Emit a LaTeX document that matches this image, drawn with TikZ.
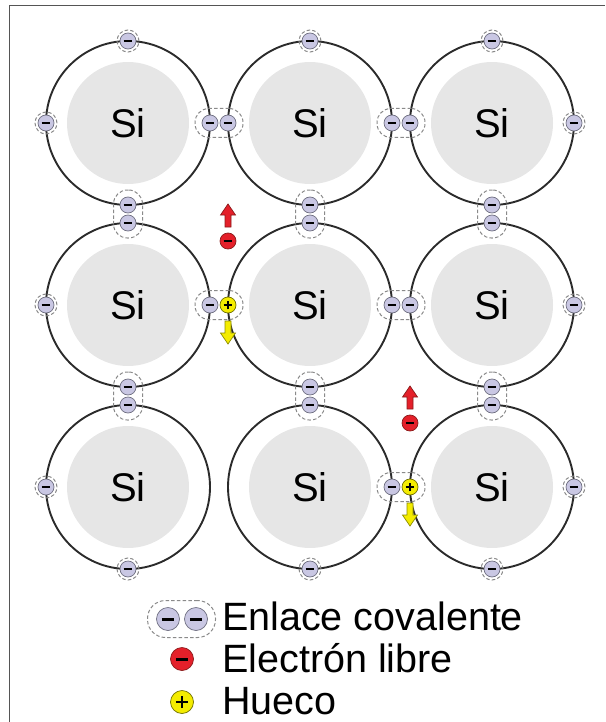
\documentclass[tikz,border=0pt]{standalone}
\usepackage{fontspec}
\setmainfont{Liberation Sans}
\begin{document}
\definecolor{ringcol}{HTML}{2B2B2B}
\definecolor{corefill}{HTML}{E6E6E6}
\definecolor{elecfill}{HTML}{C9C7E3}
\definecolor{elecedge}{HTML}{6E6E80}
\definecolor{freered}{HTML}{E4202A}
\definecolor{freeedge}{HTML}{8A1A1A}
\definecolor{holefill}{HTML}{F4EC00}
\definecolor{holeedge}{HTML}{707000}
\definecolor{dashcol}{HTML}{8A8A8A}
\definecolor{framecol}{HTML}{555555}
\begin{tikzpicture}[x=1pt,y=-1pt,
  frameline/.style={draw=framecol, line width=1.4pt},
  ring/.style={draw=ringcol, line width=1.9pt},
  core/.style={circle, fill=corefill, minimum size=122pt, inner sep=0pt,
    font=\fontsize{40}{40}\selectfont},
  minusmark/.style={path picture={\draw[line width=#1, black]
      ([xshift=-0.27*\pgfkeysvalueof{/pgf/minimum width}]path picture bounding box.center) --
      ([xshift=0.27*\pgfkeysvalueof{/pgf/minimum width}]path picture bounding box.center);}},
  plusmark/.style={path picture={\draw[line width=#1, black]
      ([xshift=-0.27*\pgfkeysvalueof{/pgf/minimum width}]path picture bounding box.center) --
      ([xshift=0.27*\pgfkeysvalueof{/pgf/minimum width}]path picture bounding box.center)
      ([yshift=-0.27*\pgfkeysvalueof{/pgf/minimum width}]path picture bounding box.center) --
      ([yshift=0.27*\pgfkeysvalueof{/pgf/minimum width}]path picture bounding box.center);}},
  particle/.style={circle, inner sep=0pt, line width=0.7pt, minimum size=16pt},
  elec/.style={particle, draw=elecedge, fill=elecfill, minusmark=2.4pt},
  freeel/.style={particle, draw=freeedge, fill=freered, minusmark=2.4pt},
  holeel/.style={particle, draw=holeedge, fill=holefill, plusmark=2.2pt},
  bigelec/.style={elec, minimum size=23pt, minusmark=3pt},
  bigfree/.style={freeel, minimum size=23pt, minusmark=3pt},
  bighole/.style={holeel, minimum size=23pt, plusmark=2.8pt},
  dashline/.style={draw=dashcol, line width=1pt, dash pattern=on 3.5pt off 2.2pt},
  hbond/.style={dashline, rounded corners=14pt, minimum width=48pt, minimum height=29pt, inner sep=0pt},
  vbond/.style={dashline, rounded corners=14pt, minimum width=29pt, minimum height=48pt, inner sep=0pt},
  lonebond/.style={dashline, circle, minimum size=22pt, inner sep=0pt},
  legendbond/.style={dashline, rounded corners=18pt, minimum width=68pt, minimum height=37pt, inner sep=0pt},
  legendtext/.style={anchor=base west, inner sep=0pt, font=\fontsize{39.5}{39.5}\selectfont},
  drift/.pic={\draw[line width=0.7pt, pic actions]
      (0,0) -- (7.5,11) -- (3,11) -- (3,23) -- (-3,23) -- (-3,11) -- (-7.5,11) -- cycle;}
]
\useasboundingbox (0,0) rectangle (605,722);

% frame
\draw[frameline] (9.5,722) -- (9.5,5.5) -- (605,5.5);

% silicon atoms with their valence rings
\foreach \c/\x in {1/128,2/310,3/492}{
  \foreach \r/\y in {1/123,2/305,3/487}{
    \draw[ring] (\x,\y) circle[radius=82pt];
    \node[core] (si\r\c) at (\x,\y) {Si};
  }
}

% covalent bond outlines
\node[hbond] (b1a) at (219,123) {};
\node[hbond] (b1b) at (401,123) {};
\node[hbond] (b2a) at (219,305) {};
\node[hbond] (b2b) at (401,305) {};
\node[hbond] (b3b) at (401,487) {};
\foreach \x [count=\i] in {128,310,492}{
  \node[vbond] (v1\i) at (\x,214) {};
  \node[vbond] (v2\i) at (\x,396) {};
}
% outlines of the outer, unpaired bonds
\foreach \p [count=\i] in {(46,123),(46,305),(46,487),(574,123),(574,305),(574,487),
                           (128,41),(310,41),(492,41),(128,569),(310,569),(492,569)}{
  \node[lonebond] (lb\i) at \p {};
}

% bonding electrons
\node[elec] (e1a) at (210,123) {};
\node[elec] (e1b) at (228,123) {};
\node[elec] (e1c) at (392,123) {};
\node[elec] (e1d) at (410,123) {};
\node[elec] (e2a) at (210,305) {};
\node[holeel] (h1) at (228,305) {};
\node[elec] (e2c) at (392,305) {};
\node[elec] (e2d) at (410,305) {};
\node[elec] (e3c) at (392,487) {};
\node[holeel] (h2) at (410,487) {};
\foreach \x [count=\i] in {128,310,492}{
  \node[elec] (u1\i) at (\x,205) {};
  \node[elec] (d1\i) at (\x,223) {};
  \node[elec] (u2\i) at (\x,387) {};
  \node[elec] (d2\i) at (\x,405) {};
}
\foreach \p [count=\i] in {(46,123),(46,305),(46,487),(574,123),(574,305),(574,487),
                           (128,41),(310,41),(492,41),(128,569),(310,569),(492,569)}{
  \node[elec] (le\i) at \p {};
}

% free electrons and their drift
\node[freeel] (f1) at (228,241) {};
\node[freeel] (f2) at (410,423) {};
\pic[fill=freered, draw=freeedge] at (228,204) {drift};
\pic[fill=freered, draw=freeedge] at (410,386) {drift};
% holes drift the other way
\pic[fill=holefill, draw=holeedge!80!yellow, yscale=-1] at (228,344) {drift};
\pic[fill=holefill, draw=holeedge!80!yellow, yscale=-1] at (410,526) {drift};

% legend
\node[legendbond] (kbond) at (181.5,619) {};
\node[bigelec] (ke1) at (168,619) {};
\node[bigelec] (ke2) at (196,619) {};
\node[bigfree] (kfree) at (182,659) {};
\node[bighole] (khole) at (182,702) {};
\node[legendtext] (t1) at (222,630.5) {Enlace covalente};
\node[legendtext] (t2) at (222,672) {Electrón libre};
\node[legendtext] (t3) at (222,714) {Hueco};
\end{tikzpicture}
\end{document}
